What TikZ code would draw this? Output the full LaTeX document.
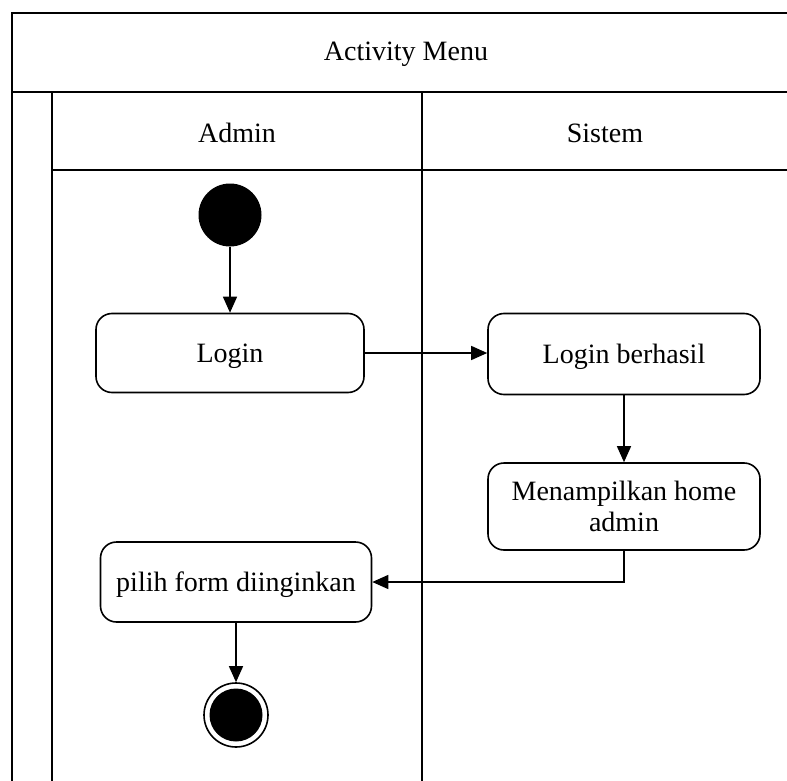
\documentclass[tikz,border=0pt]{standalone}
\usepackage{fontspec}
\setmainfont{Liberation Serif}
\usetikzlibrary{arrows.meta}
\newcommand{\lowtxt}[1]{\raisebox{-3pt}[\height][\depth]{#1}}
\begin{document}
\begin{tikzpicture}[x=1pt,y=-1pt,
  frame/.style={line width=2pt},
  act/.style={draw,line width=1.6pt,rounded corners=16pt,align=center,inner sep=0pt},
  flow/.style={line width=1.4pt,-{Triangle[length=16pt,width=14pt]}},
  lbl/.style={inner sep=0pt},
  every node/.style={font=\fontsize{28}{31}\selectfont}]
\useasboundingbox (0,0) rectangle (787,781);
% frames
\draw[frame] (787,13) -- (12,13) -- (12,781);
\draw[frame] (12,92) -- (787,92);
\draw[frame] (52,92) -- (52,781);
\draw[frame] (52,170) -- (787,170);
\draw[frame] (422,92) -- (422,781);
\node[lbl] (title) at (406,54) {Activity Menu};
\node[lbl] (admin) at (237,133) {Admin};
\node[lbl] (sistem) at (605,133) {Sistem};
% nodes
\node[circle,fill=black,minimum size=63pt,inner sep=0pt] (start) at (230,215) {};
\node[act,minimum width=268pt,minimum height=79pt] (login) at (230,353) {\lowtxt{Login}};
\node[act,minimum width=272pt,minimum height=81pt] (berhasil) at (624,354) {\lowtxt{Login berhasil}};
\node[act,minimum width=272pt,minimum height=87pt] (home) at (624,506.5) {Menampilkan home\\admin};
\node[act,minimum width=271pt,minimum height=80pt] (pilih) at (236,582) {\lowtxt{pilih form diinginkan}};
\node[circle,draw,line width=1.6pt,minimum size=64pt,inner sep=0pt] (end) at (236,715) {};
\node[circle,fill=black,minimum size=53pt,inner sep=0pt] (endin) at (end) {};
% connectors
\draw[flow] (start) -- (login);
\draw[flow] (login.east) -- (login.east -| berhasil.west);
\draw[flow] (berhasil) -- (home);
\draw[flow] (home.south) |- (pilih.east);
\draw[flow] (pilih) -- (end);
\end{tikzpicture}
\end{document}
